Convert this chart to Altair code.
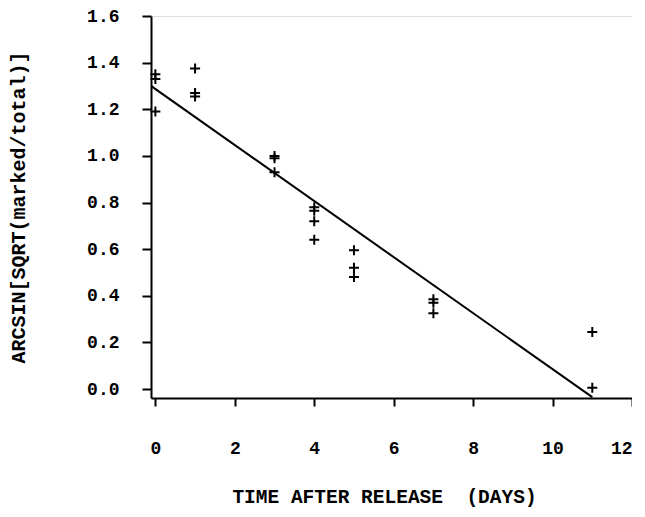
import altair as alt
import pandas as pd

# Observed points
x_days = [0, 0, 0, 1, 1, 1, 3, 3, 3, 4, 4, 4, 4, 5, 5, 5, 7, 7, 7, 11, 11]
y_vals = [1.35, 1.33, 1.19, 1.375, 1.27, 1.255, 1.0, 0.99, 0.93,
          0.78, 0.765, 0.72, 0.64, 0.595, 0.52, 0.48, 0.385, 0.37, 0.325,
          0.245, 0.005]

# Fitted line end points
line_x = [-0.11, 11.0]
line_y = [1.30, -0.035]

x_ticks = [0, 2, 4, 6, 8, 10, 12]
y_ticks = [0.0, 0.2, 0.4, 0.6, 0.8, 1.0, 1.2, 1.4, 1.6]

pts = pd.DataFrame({"x": x_days, "y": y_vals})
ln = pd.DataFrame({"x": line_x, "y": line_y})

FONT = "Liberation Mono"
LBL = 18

xscale = alt.Scale(domain=[-0.11, 12], nice=False, zero=False)
yscale = alt.Scale(domain=[-0.0385, 1.6], nice=False, zero=False)

xaxis = alt.Axis(
    title="TIME AFTER RELEASE\u00a0 (DAYS)", values=x_ticks, format="d",
    grid=False, domainColor="black", domainWidth=2, tickColor="black",
    tickWidth=2, tickSize=8, labelPadding=33, labelFont=FONT,
    labelFontWeight="bold", labelFontSize=LBL, labelColor="black",
    titleFont=FONT, titleFontWeight="bold", titleFontSize=19.5,
    titleColor="black", titleX=233, titleY=98, titleBaseline="middle",
    titleAnchor="middle"
)
yaxis = alt.Axis(
    title="ARCSIN[SQRT(marked/total)]", values=y_ticks, format=".1f",
    grid=False, domainColor="black", domainWidth=2, tickColor="black",
    tickWidth=2, tickSize=9, labelPadding=23, labelFont=FONT,
    labelFontWeight="bold", labelFontSize=LBL, labelColor="black",
    titleFont=FONT, titleFontWeight="bold", titleFontSize=20,
    titleColor="black", titleX=-133, titleY=191, titleBaseline="middle",
    titleAngle=-90, titleAnchor="middle"
)

cross = "M-1,0L1,0M0,-1L0,1"

points = alt.Chart(pts).mark_point(
    shape=cross, filled=False, stroke="black", strokeWidth=2, size=100, opacity=1
).encode(
    x=alt.X("x:Q", scale=xscale, axis=xaxis),
    y=alt.Y("y:Q", scale=yscale, axis=yaxis),
)

line = alt.Chart(ln).mark_line(color="black", strokeWidth=2, clip=True).encode(
    x=alt.X("x:Q", scale=xscale),
    y=alt.Y("y:Q", scale=yscale),
)

chart = alt.layer(line, points).properties(
    width=481, height=382,
    autosize=alt.AutoSizeParams(type="none"),
    padding={"left": 143, "top": 8, "right": 0, "bottom": 111},
).configure_view(stroke="black", strokeWidth=2).configure(background="white")

chart.save("out.html", embed_options={"renderer": "svg", "actions": False})
